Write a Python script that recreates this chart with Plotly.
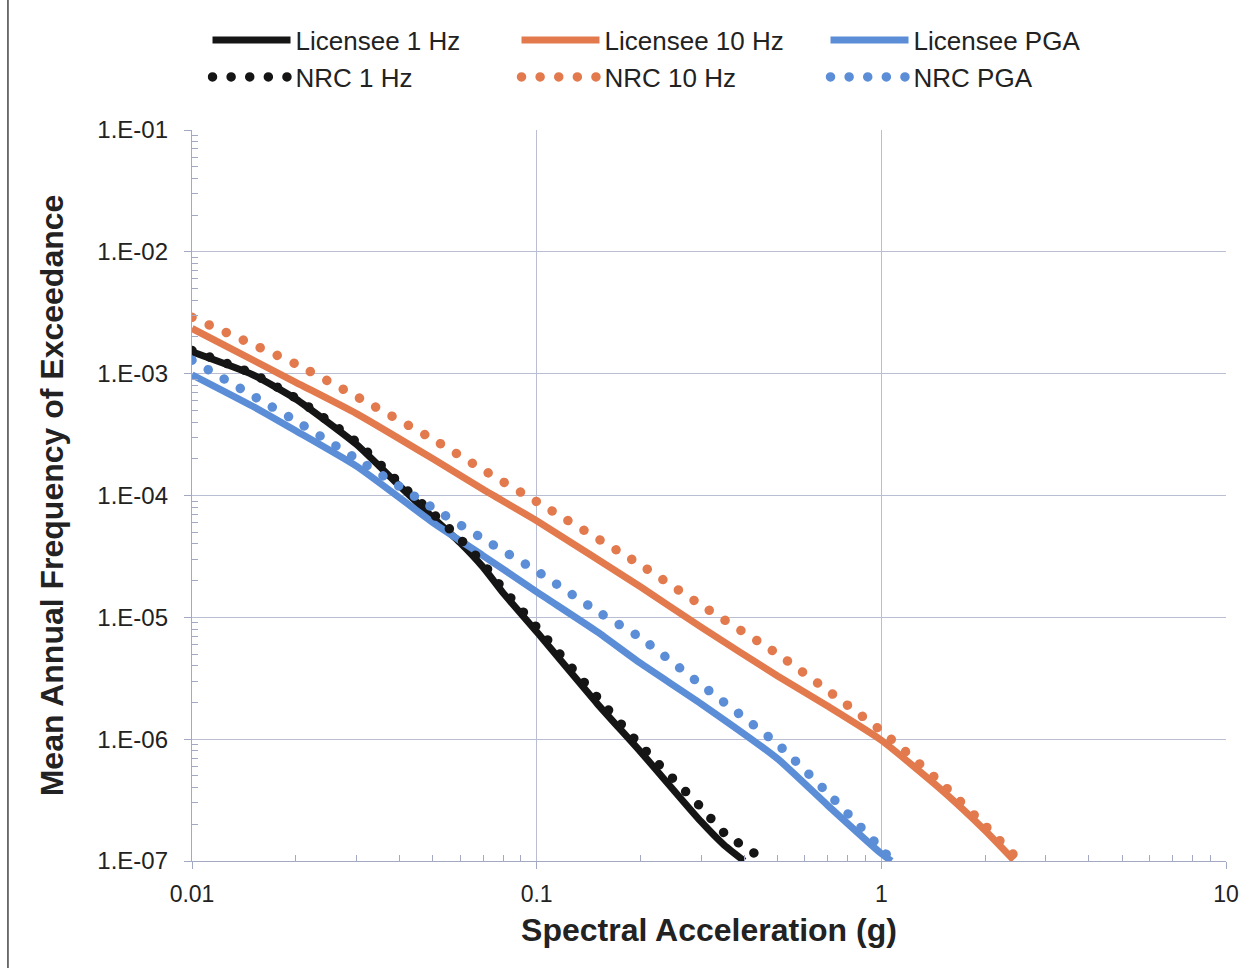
import plotly.graph_objects as go

# ---------------- data ----------------
x_lic_1hz = [0.01, 0.015, 0.02, 0.03, 0.04, 0.05, 0.06, 0.07, 0.08, 0.1, 0.15, 0.2, 0.3, 0.35, 0.4]
y_lic_1hz = [1.51e-3, 9.8e-4, 6.2e-4, 2.63e-4, 1.2e-4, 6.6e-5, 4.1e-5, 2.57e-5, 1.58e-5,
             7.6e-6, 1.95e-6, 7.9e-7, 2.1e-7, 1.35e-7, 1.0e-7]

x_nrc_1hz = [0.01, 0.015, 0.02, 0.03, 0.04, 0.05, 0.06, 0.07, 0.08, 0.1, 0.15, 0.2, 0.3, 0.35, 0.445]
y_nrc_1hz = [1.55e-3, 1.0e-3, 6.3e-4, 2.75e-4, 1.26e-4, 7.1e-5, 4.4e-5, 2.75e-5, 1.7e-5,
             8.3e-6, 2.2e-6, 8.9e-7, 2.75e-7, 1.7e-7, 1.08e-7]

x_lic_10hz = [0.01, 0.02, 0.03, 0.05, 0.07, 0.1, 0.2, 0.3, 0.5, 0.7, 1.0, 1.5, 2.0, 2.42]
y_lic_10hz = [2.35e-3, 8.5e-4, 4.7e-4, 2.0e-4, 1.12e-4, 6.2e-5, 1.78e-5, 8.3e-6, 3.3e-6,
              1.86e-6, 9.8e-7, 3.8e-7, 1.78e-7, 1.02e-7]

x_nrc_10hz = [0.01, 0.02, 0.03, 0.05, 0.07, 0.1, 0.2, 0.3, 0.5, 0.7, 1.0, 1.5, 2.0, 2.47]
y_nrc_10hz = [2.9e-3, 1.2e-3, 6.5e-4, 2.9e-4, 1.62e-4, 8.9e-5, 2.7e-5, 1.26e-5, 5.0e-6,
              2.5e-6, 1.17e-6, 4.3e-7, 1.95e-7, 1.06e-7]

x_lic_pga = [0.01, 0.015, 0.02, 0.03, 0.05, 0.07, 0.1, 0.15, 0.2, 0.3, 0.5, 0.7, 1.0, 1.07]
y_lic_pga = [9.8e-4, 5.4e-4, 3.4e-4, 1.74e-4, 6.0e-5, 3.2e-5, 1.62e-5, 7.6e-6, 4.2e-6,
             1.95e-6, 6.9e-7, 2.85e-7, 1.15e-7, 1.0e-7]

x_nrc_pga = [0.01, 0.015, 0.02, 0.03, 0.05, 0.07, 0.1, 0.15, 0.2, 0.3, 0.5, 0.7, 1.0, 1.06]
y_nrc_pga = [1.29e-3, 6.6e-4, 4.1e-4, 2.0e-4, 7.9e-5, 4.4e-5, 2.4e-5, 1.12e-5, 6.8e-6,
             2.8e-6, 9.1e-7, 3.6e-7, 1.26e-7, 1.05e-7]

x_tick_vals = [0.01, 0.1, 1, 10]
x_tick_text = ["0.01", "0.1", "1", "10"]
y_tick_vals = [1e-7, 1e-6, 1e-5, 1e-4, 1e-3, 1e-2, 1e-1]
y_tick_text = ["1.E-07", "1.E-06", "1.E-05", "1.E-04", "1.E-03", "1.E-02", "1.E-01"]

# ---------------- styling ----------------
BLACK = "#151515"
ORANGE = "#E27A4E"
BLUE = "#5B8ED7"
GRID = "#b9bed2"
AXIS = "#a3a9c2"
FONT = "Liberation Sans, Arial, sans-serif"
DOT_DASH = "2px,17px"   # replaced by round dots in post script
SOLID_W = 7
DOT_W = 9.5

fig = go.Figure()

series = [
    ("Licensee 1 Hz", x_lic_1hz, y_lic_1hz, BLACK, "solid"),
    ("Licensee 10 Hz", x_lic_10hz, y_lic_10hz, ORANGE, "solid"),
    ("Licensee PGA", x_lic_pga, y_lic_pga, BLUE, "solid"),
    ("NRC 1 Hz", x_nrc_1hz, y_nrc_1hz, BLACK, "dot"),
    ("NRC 10 Hz", x_nrc_10hz, y_nrc_10hz, ORANGE, "dot"),
    ("NRC PGA", x_nrc_pga, y_nrc_pga, BLUE, "dot"),
]

for name, xs, ys, col, kind in series:
    if kind == "solid":
        line = dict(color=col, width=SOLID_W, shape="spline", smoothing=0.5)
    else:
        line = dict(color=col, width=DOT_W, dash=DOT_DASH, shape="spline", smoothing=0.5)
    fig.add_trace(go.Scatter(x=xs, y=ys, mode="lines", name=name, line=line))

minor_x = [k * 10 ** e for e in (-2, -1, 0) for k in range(2, 10)]
minor_y = [k * 10 ** e for e in range(-7, -1) for k in range(2, 10)]

fig.update_xaxes(
    type="log", range=[-2, 1],
    tickmode="array", tickvals=x_tick_vals, ticktext=x_tick_text,
    showgrid=True, gridcolor=GRID, gridwidth=1,
    showline=True, linecolor=AXIS, linewidth=1.3,
    ticks="outside", ticklen=7, tickcolor=AXIS,
    tickfont=dict(family=FONT, size=23, color="#222"),
    ticklabelstandoff=5,
    minor=dict(tickmode="array", tickvals=minor_x, ticks="inside", ticklen=6,
               tickcolor=AXIS, showgrid=False),
    title=dict(text="<b>Spectral Acceleration (g)</b>",
               font=dict(family=FONT, size=32, color="#222"), standoff=12),
    zeroline=False,
)
fig.update_yaxes(
    type="log", range=[-7, -1],
    tickmode="array", tickvals=y_tick_vals, ticktext=y_tick_text,
    showgrid=True, gridcolor=GRID, gridwidth=1,
    showline=True, linecolor=AXIS, linewidth=1.3,
    ticks="outside", ticklen=7, tickcolor=AXIS,
    tickfont=dict(family=FONT, size=24, color="#222"),
    ticklabelstandoff=11,
    minor=dict(tickmode="array", tickvals=minor_y, ticks="inside", ticklen=6,
               tickcolor=AXIS, showgrid=False),
    title=dict(text="<b>Mean Annual Frequency of Exceedance</b>",
               font=dict(family=FONT, size=32, color="#222"), standoff=24),
    zeroline=False,
)

fig.update_layout(
    width=1258, height=968,
    margin=dict(l=192, r=32, t=130, b=107),
    paper_bgcolor="white", plot_bgcolor="white",
    font=dict(family=FONT, color="#222"),
    showlegend=True,
    legend=dict(
        orientation="h", x=0.015, xanchor="left", y=1.155, yanchor="top",
        font=dict(family=FONT, size=26, color="#222"),
        itemwidth=78, entrywidth=216, bgcolor="rgba(0,0,0,0)",
        traceorder="normal",
    ),
    shapes=[dict(type="line", xref="paper", yref="paper",
                 x0=-0.178, x1=-0.178, y0=-0.16, y1=1.19,
                 line=dict(color="#444", width=1.5))],
)

post = """
var gd = document.getElementById('{plot_id}');
function roundDots(){
  var paths = gd.querySelectorAll('path');
  paths.forEach(function(p){
    var d = p.style.strokeDasharray || '';
    if(d.indexOf('17px') >= 0 || d.indexOf('17,') >= 0){
      p.style.strokeDasharray = '0.01px, 18.6px';
      p.style.strokeLinecap = 'round';
    }
  });
}
roundDots();
if(gd.on){ gd.on('plotly_afterplot', roundDots); }
setTimeout(roundDots, 50);
setTimeout(roundDots, 300);
"""

fig.write_html("out.html", post_script=post)
